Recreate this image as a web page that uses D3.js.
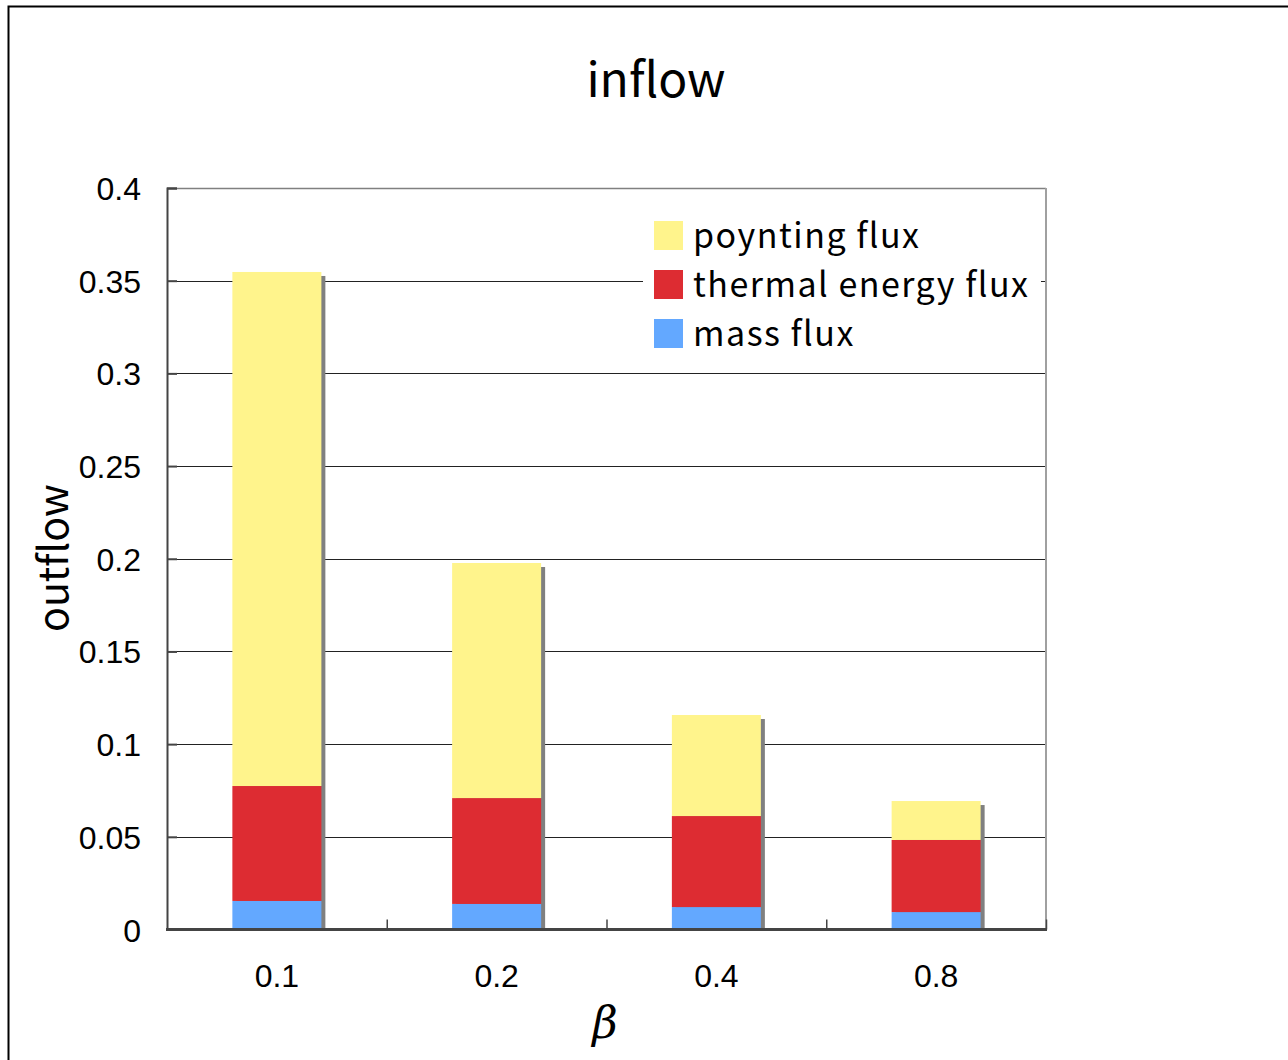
<!DOCTYPE html>
<html>
<head>
<meta charset="utf-8">
<script src="https://cdn.jsdelivr.net/npm/d3@7"></script>
<style>
  body { margin: 0; background: #fff; }
  svg text { fill: #000; }
</style>
</head>
<body>
<div id="chart"></div>
<script>
// values
const betas = ['0.1', '0.2', '0.4', '0.8']
const massFlux = [0.0154, 0.0138, 0.0121, 0.0094]
const thermalFlux = [0.0620, 0.0571, 0.0491, 0.0389]
const poyntingFlux = [0.2773, 0.1268, 0.0545, 0.0210]
const yTicks = [0, 0.05, 0.1, 0.15, 0.2, 0.25, 0.3, 0.35, 0.4]
const seriesNames = ['mass flux', 'thermal energy flux', 'poynting flux']
const seriesColors = ['#63a8ff', '#dd2c32', '#fff48c']

const width = 1288, height = 1060
const margin = { left: 167, right: 242, top: 188, bottom: 130.5 }
const innerW = width - margin.left - margin.right
const innerH = height - margin.top - margin.bottom

let svg = d3.select('#chart').append('svg')
  .attr('width', width)
  .attr('height', height)

// outer frame
svg.append('rect')
  .attr('x', 8.5).attr('y', 6.5)
  .attr('width', 1400).attr('height', 1200)
  .attr('fill', 'none')
  .attr('stroke', '#000')
  .attr('stroke-width', 2)

let x = d3.scaleBand()
  .domain(betas)
  .range([0, innerW])
  .paddingInner(0.595)
  .paddingOuter(0.2975)

let y = d3.scaleLinear()
  .domain([0, 0.4])
  .range([innerH, 0])

let g = svg.append('g')
  .attr('transform', 'translate(' + margin.left + ',' + margin.top + ')')

// grid lines
g.append('g').selectAll('line')
  .data(yTicks.filter(t => t > 0 && t < 0.4))
  .enter()
  .append('line')
  .attr('x1', 0).attr('x2', innerW)
  .attr('y1', d => Math.round(y(d)) + 0.5)
  .attr('y2', d => Math.round(y(d)) + 0.5)
  .attr('stroke', '#222')
  .attr('stroke-width', 1.2)

let rows = betas.map((b, i) => ({ beta: b, 'mass flux': massFlux[i], 'thermal energy flux': thermalFlux[i], 'poynting flux': poyntingFlux[i] }))
let stacked = d3.stack().keys(seriesNames)(rows)

// bar shadows
g.append('g').selectAll('rect')
  .data(rows)
  .enter()
  .append('rect')
  .attr('x', d => x(d.beta) + 4)
  .attr('y', d => y(d['mass flux'] + d['thermal energy flux'] + d['poynting flux']) + 4)
  .attr('width', x.bandwidth())
  .attr('height', d => innerH - y(d['mass flux'] + d['thermal energy flux'] + d['poynting flux']) - 4)
  .attr('fill', '#808080')

g.append('g').selectAll('g')
  .data(stacked)
  .enter()
  .append('g')
  .attr('fill', (d, i) => seriesColors[i])
  .selectAll('rect')
  .data(d => d)
  .enter()
  .append('rect')
  .attr('x', d => x(d.data.beta))
  .attr('y', d => y(d[1]))
  .attr('width', x.bandwidth())
  .attr('height', d => y(d[0]) - y(d[1]))

// plot frame: top/right light, left/bottom dark
g.append('line').attr('x1', 0).attr('x2', innerW).attr('y1', 0.5).attr('y2', 0.5)
  .attr('stroke', '#808080').attr('stroke-width', 1.5)
g.append('line').attr('x1', innerW).attr('x2', innerW).attr('y1', 0).attr('y2', innerH)
  .attr('stroke', '#a0a0a0').attr('stroke-width', 2)

// y axis
let yAxis = g.append('g')
  .call(d3.axisLeft(y).tickValues(yTicks).tickSize(-10).tickPadding(26).tickFormat(d => d3.format('')(+d.toFixed(2))))
yAxis.select('.domain').attr('stroke', '#444').attr('stroke-width', 2)
yAxis.selectAll('.tick line').attr('stroke', '#444').attr('stroke-width', 2)
yAxis.selectAll('text')
  .attr('font-family', 'Liberation Sans, Arial, sans-serif')
  .attr('font-size', 32)
  .attr('dy', '0.36em')

// x axis with ticks at category boundaries
let xAxisG = g.append('g').attr('transform', 'translate(0,' + innerH + ')')
xAxisG.append('line').attr('x1', -1).attr('x2', innerW + 1).attr('y1', 0).attr('y2', 0)
  .attr('stroke', '#444').attr('stroke-width', 3)
xAxisG.selectAll('.bound')
  .data(betas.slice(1).concat(['end']))
  .enter()
  .append('line')
  .attr('x1', (d, i) => (i + 1) * x.step() + 0.5)
  .attr('x2', (d, i) => (i + 1) * x.step() + 0.5)
  .attr('y1', 0).attr('y2', -10)
  .attr('stroke', '#444').attr('stroke-width', 1.5)
xAxisG.selectAll('.lbl')
  .data(betas)
  .enter()
  .append('text')
  .attr('x', d => x(d) + x.bandwidth() / 2)
  .attr('y', 57)
  .attr('text-anchor', 'middle')
  .attr('font-family', 'Liberation Sans, Arial, sans-serif')
  .attr('font-size', 32)
  .text(d => d)

// legend
let legend = svg.append('g').attr('transform', 'translate(643,210)')
legend.append('rect').attr('width', 398).attr('height', 150).attr('fill', '#fff')
let legendItems = seriesNames.slice().reverse()
legendItems.forEach((name, i) => {
  let row = legend.append('g').attr('transform', 'translate(11,' + (11 + i * 49) + ')')
  row.append('rect').attr('width', 29).attr('height', 29).attr('fill', seriesColors[seriesNames.indexOf(name)])
  row.append('text')
    .attr('x', 39).attr('y', 27)
    .attr('font-family', 'Noto Sans CJK JP, Noto Sans, sans-serif')
    .attr('font-size', 34)
    .attr('letter-spacing', 1.5)
    .text(name)
})

// titles
svg.append('text')
  .attr('x', 656).attr('y', 97)
  .attr('text-anchor', 'middle')
  .attr('font-family', 'Noto Sans CJK JP, Noto Sans, sans-serif')
  .attr('font-size', 48)
  .text('inflow')

svg.append('text')
  .attr('transform', 'translate(68,558) rotate(-90)')
  .attr('text-anchor', 'middle')
  .attr('font-family', 'Noto Sans CJK JP, Noto Sans, sans-serif')
  .attr('font-size', 41)
  .text('outflow')

svg.append('text')
  .attr('x', 605).attr('y', 1038)
  .attr('text-anchor', 'middle')
  .attr('font-family', 'DejaVu Serif, serif')
  .attr('font-style', 'italic')
  .attr('font-size', 44)
  .text('β')
</script>
</body>
</html>
